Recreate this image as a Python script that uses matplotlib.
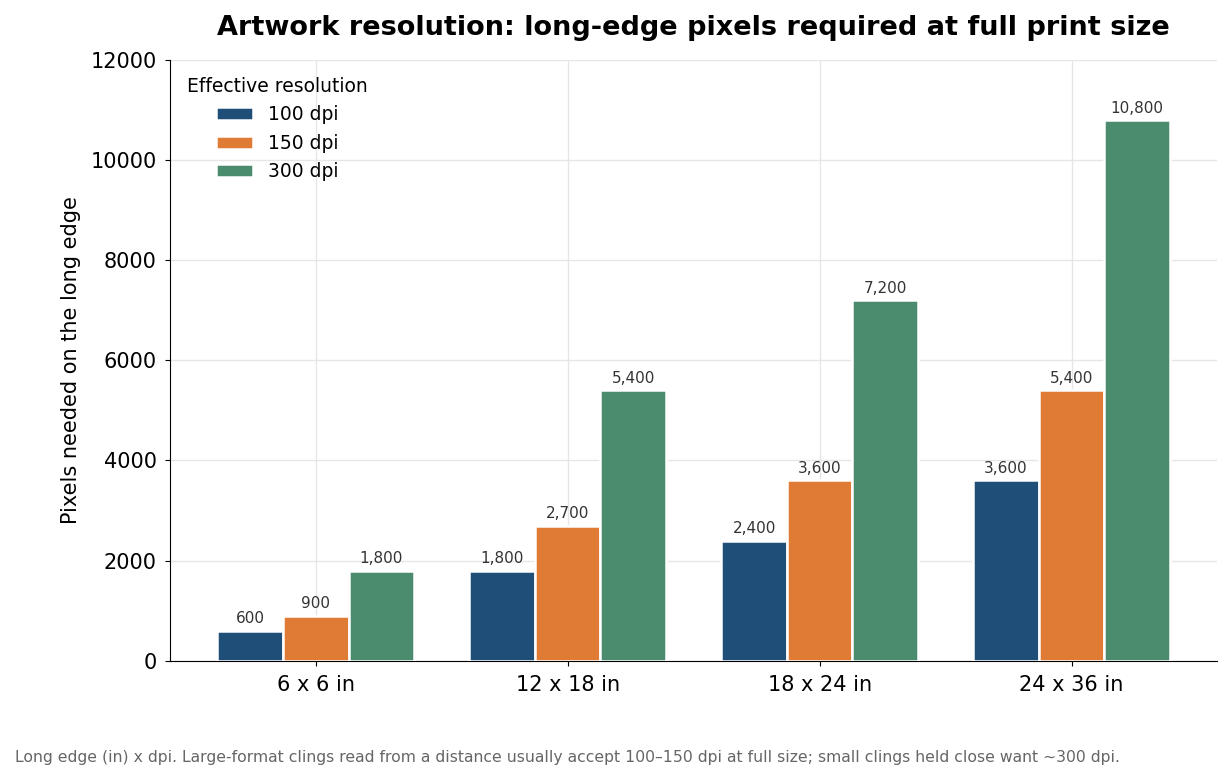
import matplotlib.pyplot as plt
import numpy as np

sizes = ['6 x 6 in', '12 x 18 in', '18 x 24 in', '24 x 36 in']
dpi_labels = ['100 dpi', '150 dpi', '300 dpi']
px_100 = [600, 1800, 2400, 3600]
px_150 = [900, 2700, 3600, 5400]
px_300 = [1800, 5400, 7200, 10800]
colors = ['#1f4e79', '#e07b35', '#4c8c6e']

fig, ax = plt.subplots(figsize=(12.31, 7.8), dpi=100)
fig.subplots_adjust(left=0.138, right=0.989, top=0.923, bottom=0.153)

x = np.arange(len(sizes))
width = 0.26
for i, (vals, lab) in enumerate(zip([px_100, px_150, px_300], dpi_labels)):
    bars = ax.bar(x + (i - 1) * width, vals, width, label=lab, color=colors[i],
                  edgecolor='white', linewidth=1.8, zorder=3)
    ax.bar_label(bars, labels=[f'{v:,}' for v in vals], padding=3,
                 fontsize=11, color='#333333')

ax.set_xticks(x)
ax.set_xticklabels(sizes, fontsize=15)
ax.tick_params(axis='x', pad=6.5)
ax.tick_params(axis='y', labelsize=15, pad=6)
ax.set_ylim(0, 12000)
ax.set_ylabel('Pixels needed on the long edge', fontsize=15, labelpad=7)
ax.set_title('Artwork resolution: long-edge pixels required at full print size',
             fontsize=19.5, fontweight='bold', pad=18)
ax.grid(True, color='#e6e6e6', linewidth=1, zorder=0)
ax.spines['top'].set_visible(False)
ax.spines['right'].set_visible(False)

ax.legend(title='Effective resolution', frameon=False, fontsize=13.5,
          title_fontsize=13.5, loc='upper left')

fig.text(0.012, 0.023, 'Long edge (in) x dpi. Large-format clings read from a distance usually '
         'accept 100\u2013150 dpi at full size; small clings held close want ~300 dpi.',
         fontsize=11.25, color='#666666')

fig.savefig('out.png')
